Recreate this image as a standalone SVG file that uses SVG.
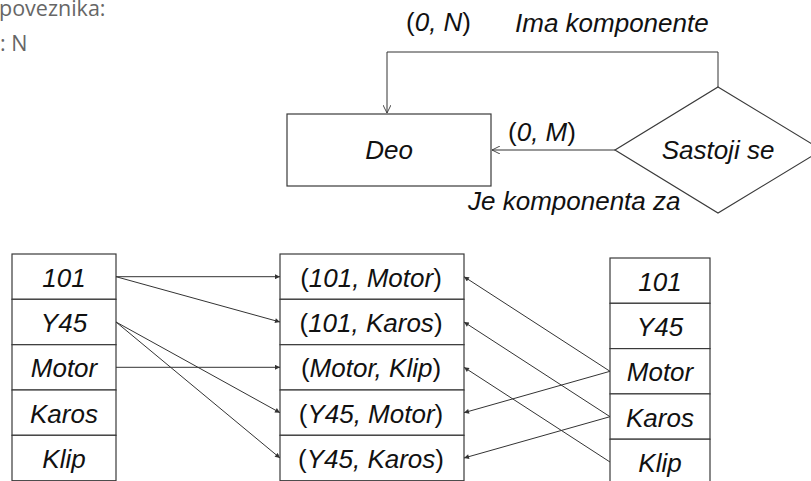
<svg xmlns="http://www.w3.org/2000/svg" width="811" height="481" viewBox="0 0 811 481">
  <style>
    .box { fill: #ffffff; stroke: #3a3a3a; stroke-width: 1.2; }
    .lbl { font-family: "Liberation Sans", Arial, sans-serif; font-size: 26px; font-style: italic; fill: #111111; text-anchor: middle; }
    .up { font-style: normal; }
    .er { font-family: "Liberation Sans", Arial, sans-serif; font-size: 26px; font-style: italic; fill: #111111; }
    .note { font-family: "Open Sans", "Noto Sans", sans-serif; font-size: 21.5px; fill: #666666; }
    .link { fill: none; stroke: #333333; stroke-width: 1; }
  </style>
  <defs>
    <marker id="tip" viewBox="0 0 10 10" refX="10" refY="5" markerUnits="userSpaceOnUse" markerWidth="7" markerHeight="5" orient="auto">
      <path d="M0,0 L10,5 L0,10 z" fill="#333333"/>
    </marker>
    <marker id="open" viewBox="0 0 10 10" refX="10" refY="5" markerUnits="userSpaceOnUse" markerWidth="9" markerHeight="8" orient="auto">
      <path d="M0,0 L10,5 L0,10" fill="none" stroke="#333333" stroke-width="1.1"/>
    </marker>
  </defs>

  <!-- note text at the top left -->
  <g id="note">
    <text class="note" x="-1" y="15.5">poveznika:</text>
    <text class="note" x="0" y="51">: N</text>
  </g>

  <!-- ER part: entity, relationship and labels -->
  <g id="deo">
    <rect class="box" x="287" y="114" width="204" height="72"/>
    <text class="er" x="389" y="159" text-anchor="middle">Deo</text>
  </g>
  <g id="sastoji-se">
    <polygon class="box" points="718,87 822,150 718,213 615,150"/>
    <text class="er" x="718" y="159" text-anchor="middle">Sastoji se</text>
  </g>
  <g id="er-connectors">
    <polyline class="link" points="718,87 718,52 387,52 387,113" marker-end="url(#open)"/>
    <line class="link" x1="615" y1="150" x2="492" y2="150" marker-end="url(#open)"/>
  </g>
  <g id="er-labels">
    <text class="er" x="406" y="31"><tspan class="up">(</tspan>0, N<tspan class="up">)</tspan></text>
    <text class="er" x="515" y="32">Ima komponente</text>
    <text class="er" x="508" y="141"><tspan class="up">(</tspan>0, M<tspan class="up">)</tspan></text>
    <text class="er" x="468" y="210">Je komponenta za</text>
  </g>

  <!-- left table -->
  <g id="left-table">
    <rect class="box" x="12" y="254" width="104" height="45.3"/>
    <rect class="box" x="12" y="299.3" width="104" height="45.4"/>
    <rect class="box" x="12" y="344.7" width="104" height="45.3"/>
    <rect class="box" x="12" y="390" width="104" height="45.3"/>
    <rect class="box" x="12" y="435.3" width="104" height="45.4"/>
    <text class="lbl" x="64" y="286.8">101</text>
    <text class="lbl" x="64" y="332.1">Y45</text>
    <text class="lbl" x="64" y="377.4">Motor</text>
    <text class="lbl" x="64" y="422.7">Karos</text>
    <text class="lbl" x="64" y="468">Klip</text>
  </g>

  <!-- middle table -->
  <g id="middle-table">
    <rect class="box" x="280" y="254" width="184" height="45.3"/>
    <rect class="box" x="280" y="299.3" width="184" height="45.4"/>
    <rect class="box" x="280" y="344.7" width="184" height="45.3"/>
    <rect class="box" x="280" y="390" width="184" height="45.3"/>
    <rect class="box" x="280" y="435.3" width="184" height="45.4"/>
    <text class="lbl" x="371" y="286.8"><tspan class="up">(</tspan>101, Motor<tspan class="up">)</tspan></text>
    <text class="lbl" x="371" y="332.1"><tspan class="up">(</tspan>101, Karos<tspan class="up">)</tspan></text>
    <text class="lbl" x="371" y="377.4"><tspan class="up">(</tspan>Motor, Klip<tspan class="up">)</tspan></text>
    <text class="lbl" x="371" y="422.7"><tspan class="up">(</tspan>Y45, Motor<tspan class="up">)</tspan></text>
    <text class="lbl" x="371" y="468"><tspan class="up">(</tspan>Y45, Karos<tspan class="up">)</tspan></text>
  </g>

  <!-- right table -->
  <g id="right-table">
    <rect class="box" x="610" y="258" width="100" height="45.3"/>
    <rect class="box" x="610" y="303.3" width="100" height="45.3"/>
    <rect class="box" x="610" y="348.6" width="100" height="45.3"/>
    <rect class="box" x="610" y="393.9" width="100" height="45.3"/>
    <rect class="box" x="610" y="439.2" width="100" height="45.3"/>
    <text class="lbl" x="660" y="290.8">101</text>
    <text class="lbl" x="660" y="336.1">Y45</text>
    <text class="lbl" x="660" y="381.4">Motor</text>
    <text class="lbl" x="660" y="426.7">Karos</text>
    <text class="lbl" x="660" y="472">Klip</text>
  </g>

  <!-- mapping arrows between the tables -->
  <g id="connectors">
    <line class="link" x1="116" y1="276.7" x2="280" y2="276.7" marker-end="url(#tip)"/>
    <line class="link" x1="116" y1="276.7" x2="280" y2="322" marker-end="url(#tip)"/>
    <line class="link" x1="116" y1="322" x2="280" y2="412.7" marker-end="url(#tip)"/>
    <line class="link" x1="116" y1="322" x2="280" y2="458" marker-end="url(#tip)"/>
    <line class="link" x1="116" y1="367.3" x2="280" y2="367.3" marker-end="url(#tip)"/>
    <line class="link" x1="610" y1="371.3" x2="464" y2="276.7" marker-end="url(#tip)"/>
    <line class="link" x1="610" y1="371.3" x2="464" y2="412.7" marker-end="url(#tip)"/>
    <line class="link" x1="610" y1="416.7" x2="464" y2="322" marker-end="url(#tip)"/>
    <line class="link" x1="610" y1="416.7" x2="464" y2="458" marker-end="url(#tip)"/>
    <line class="link" x1="610" y1="462" x2="464" y2="367.3" marker-end="url(#tip)"/>
  </g>
</svg>
